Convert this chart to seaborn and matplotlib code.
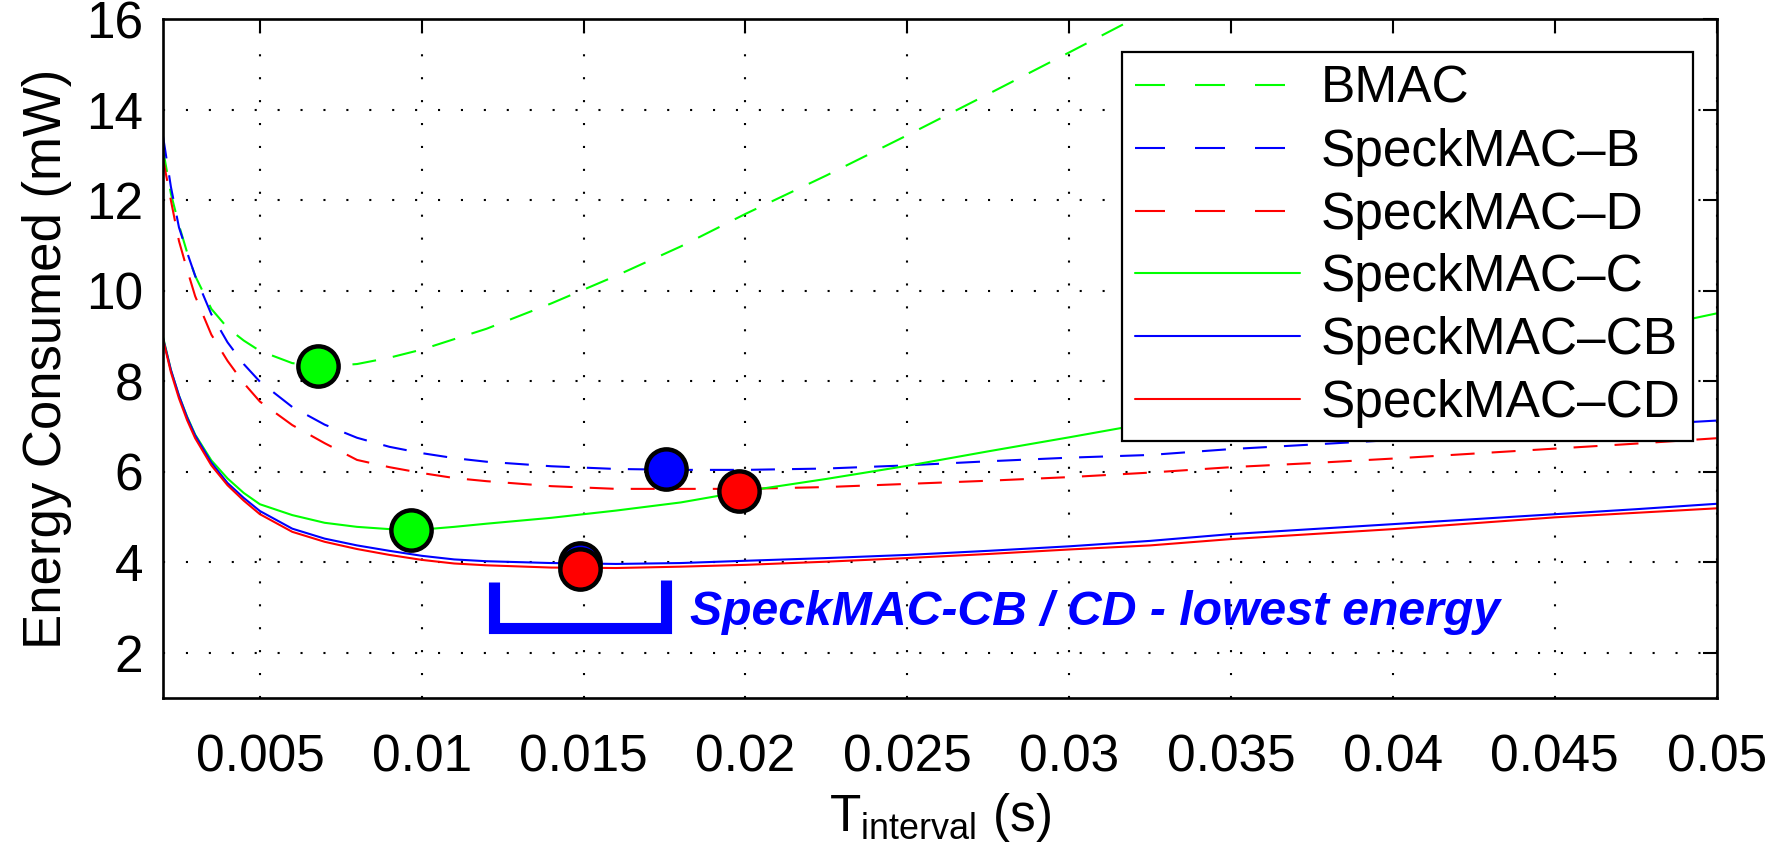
import numpy as np
import matplotlib
matplotlib.use("Agg")
import matplotlib.pyplot as plt
import seaborn as sns
from matplotlib.lines import Line2D

# Data
t_interval = [0.002, 0.00225, 0.0025, 0.00275, 0.003, 0.0035, 0.004, 0.0045,
              0.005, 0.006, 0.007, 0.008, 0.009, 0.010, 0.011, 0.012,
              0.014, 0.016, 0.018, 0.020, 0.0225, 0.025, 0.0275, 0.030,
              0.0325, 0.035, 0.0375, 0.040, 0.0425, 0.045, 0.0475, 0.050]

bmac = [13.15, 12.15, 11.45, 10.85, 10.33, 9.6, 9.18, 8.9,
        8.67, 8.4, 8.33, 8.38, 8.52, 8.7, 8.93, 9.16,
        9.72, 10.33, 10.98, 11.7, 12.55, 13.44, 14.35, 15.27,
        16.2, np.nan, np.nan, np.nan, np.nan, np.nan, np.nan, np.nan]
speck_b = [13.45, 12.3, 11.4, 10.85, 10.33, 9.48, 8.86, 8.38,
           7.99, 7.43, 7.04, 6.75, 6.55, 6.41, 6.3, 6.22,
           6.12, 6.06, 6.04, 6.04, 6.07, 6.14, 6.23, 6.31,
           6.37, 6.5, 6.6, 6.7, 6.8, 6.91, 7.03, 7.13]
speck_d = [12.95, 12.0, 11.1, 10.47, 9.88, 9.03, 8.45, 7.96,
           7.55, 7.03, 6.63, 6.26, 6.1, 5.97, 5.86, 5.79,
           5.68, 5.62, 5.62, 5.62, 5.66, 5.73, 5.8, 5.88,
           5.98, 6.1, 6.19, 6.29, 6.4, 6.51, 6.62, 6.74]
speck_c = [9.0, 8.25, 7.68, 7.22, 6.82, 6.25, 5.85, 5.53,
           5.28, 5.04, 4.87, 4.78, 4.73, 4.72, 4.78, 4.85,
           4.98, 5.14, 5.32, 5.57, 5.84, 6.13, 6.45, 6.76,
           7.08, 7.42, 7.75, 8.08, 8.42, 8.76, 9.12, 9.5]
speck_cb = [8.97, 8.25, 7.68, 7.2, 6.8, 6.2, 5.75, 5.42,
            5.13, 4.74, 4.52, 4.37, 4.25, 4.14, 4.06, 4.02,
            3.98, 3.96, 3.98, 4.03, 4.09, 4.16, 4.25, 4.35,
            4.47, 4.62, 4.73, 4.84, 4.95, 5.06, 5.17, 5.29]
speck_cd = [8.95, 8.2, 7.62, 7.14, 6.74, 6.14, 5.7, 5.36,
            5.06, 4.67, 4.45, 4.29, 4.16, 4.05, 3.97, 3.93,
            3.88, 3.87, 3.9, 3.94, 4.01, 4.09, 4.18, 4.28,
            4.37, 4.51, 4.62, 4.73, 4.86, 4.99, 5.09, 5.19]

series_names = ["BMAC", "SpeckMAC\u2013B", "SpeckMAC\u2013D",
                "SpeckMAC\u2013C", "SpeckMAC\u2013CB", "SpeckMAC\u2013CD"]
series_values = [bmac, speck_b, speck_d, speck_c, speck_cb, speck_cd]
series_colors = ["#00ff00", "#0000ff", "#ff0000", "#00ff00", "#0000ff", "#ff0000"]
series_dashed = [True, True, True, False, False, False]

# minimum points (circles)
min_x = [0.0068, 0.00966, 0.01755, 0.0198, 0.0149, 0.0149]
min_y = [8.33, 4.72, 6.05, 5.57, 3.98, 3.85]
min_colors = ["#00ff00", "#00ff00", "#0000ff", "#ff0000", "#0000ff", "#ff0000"]

# bracket under the lowest-energy region
bracket_x = [0.01222, 0.01222, 0.01755, 0.01755]
bracket_y = [3.55, 2.54, 2.54, 3.6]

x_ticks = [0.005, 0.01, 0.015, 0.02, 0.025, 0.03, 0.035, 0.04, 0.045, 0.05]
x_tick_labels = ["0.005", "0.01", "0.015", "0.02", "0.025", "0.03",
                 "0.035", "0.04", "0.045", "0.05"]
y_ticks = [2, 4, 6, 8, 10, 12, 14, 16]

sns.set_style("white")
plt.rcParams['font.family'] = ['Liberation Sans', 'DejaVu Sans']
plt.rcParams['mathtext.fontset'] = 'custom'
plt.rcParams['mathtext.rm'] = 'Liberation Sans'
plt.rcParams['text.color'] = 'black'
plt.rcParams['axes.labelcolor'] = 'black'
plt.rcParams['xtick.color'] = 'black'
plt.rcParams['ytick.color'] = 'black'

fig = plt.figure(figsize=(17.85, 8.44), dpi=100)
ax = fig.add_axes([0.0912, 0.1732, 0.8705, 0.8038])

plot_dash = (0, (11.5, 8.2))
for name, vals, col, dashed in zip(series_names, series_values,
                                   series_colors, series_dashed):
    sns.lineplot(x=t_interval, y=vals, color=col, linewidth=1.5,
                 linestyle=plot_dash if dashed else '-',
                 estimator=None, sort=False, legend=False, ax=ax)

for mx, my, mc in zip(min_x, min_y, min_colors):
    ax.plot(mx, my, 'o', markersize=29, markerfacecolor=mc,
            markeredgecolor='black', markeredgewidth=3.2, zorder=5)

ax.plot(bracket_x, bracket_y, color='#0000ff', linewidth=8,
        solid_joinstyle='miter', solid_capstyle='butt', zorder=4)
ax.text(0.0183, 2.61, "SpeckMAC-CB / CD - lowest energy", color='#0000ff',
        fontsize=34.7, fontweight='bold', fontstyle='italic', va='baseline')

ax.set_xlim(0.002, 0.05)
ax.set_ylim(1, 16)
ax.set_xticks(x_ticks)
ax.set_xticklabels(x_tick_labels)
ax.set_yticks(y_ticks)
ax.grid(True, color='black', linestyle=(0, (1, 10)), linewidth=1.5)
ax.tick_params(direction='in', length=10, width=1.5, top=True, right=True,
               labelsize=37, colors='black', labelcolor='black')
ax.tick_params(axis='x', pad=26)
ax.tick_params(axis='y', pad=14)
for sp in ax.spines.values():
    sp.set_linewidth(1.9)
    sp.set_color('black')

ax.set_xlabel(r'T$_{\mathrm{interval}}$ (s)', fontsize=37, labelpad=6,
              color='black')
ax.set_ylabel('Energy Consumed (mW)', fontsize=38, labelpad=10,
              color='black')

legend_dash = (0, (14.4, 14.4))
handles = [Line2D([], [], color=c, linewidth=1.5,
                  linestyle=legend_dash if d else '-')
           for c, d in zip(series_colors, series_dashed)]
leg = ax.legend(handles, series_names, loc='upper right',
                bbox_to_anchor=(0.9848, 0.952), borderaxespad=0,
                fontsize=37, frameon=True, fancybox=False, framealpha=1,
                edgecolor='black', handlelength=3.2, handletextpad=0.4,
                labelspacing=0.27, borderpad=0.25)
leg.get_frame().set_linewidth(1.6)
for txt in leg.get_texts():
    txt.set_color('black')

fig.savefig("out.png", dpi=100)
